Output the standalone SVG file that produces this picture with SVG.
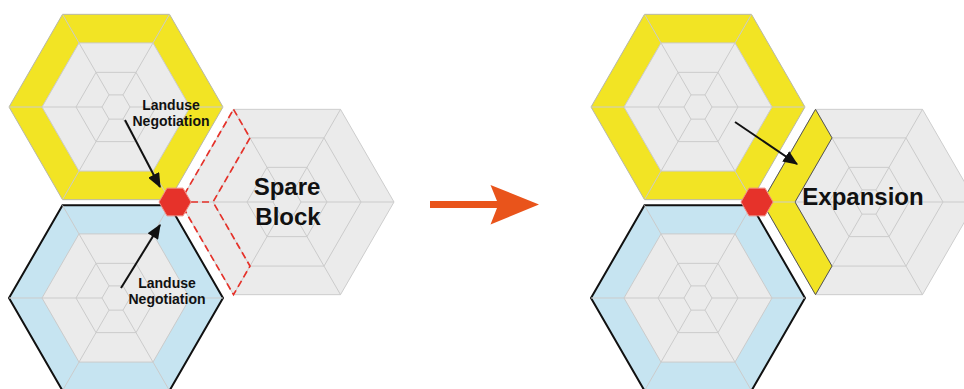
<svg xmlns="http://www.w3.org/2000/svg" xmlns:xlink="http://www.w3.org/1999/xlink" width="964" height="389" viewBox="0 0 964 389">
<style>
.yellow{fill:#f2e424;stroke:#b8b8a8;stroke-width:1}
.blue{fill:#c6e4f1;stroke:#111;stroke-width:2}
.grey{fill:#ebebeb;stroke:#cdcdcd;stroke-width:1}
.core{fill:#ebebeb;stroke:#cbcbcb;stroke-width:1}
.ring{fill:none;stroke:#cbcbcb;stroke-width:1}
.hub{fill:#e6322a;stroke:#f08a80;stroke-width:1}
.band{fill:#f2e424;stroke:#555;stroke-width:1}
.dash{fill:none;stroke:#e6322a;stroke-width:1.7;stroke-dasharray:7 4}
.pointer{stroke:#111;stroke-width:2;fill:none;marker-end:url(#ah)}
.lbl{font-family:"Liberation Sans",Arial,sans-serif;font-weight:bold;fill:#111;text-anchor:middle}
.small{font-size:14px}
.big{font-size:24px}
</style>
<defs>
<marker id="ah" viewBox="0 0 12 10" refX="11" refY="5" markerWidth="7.5" markerHeight="6.2" orient="auto" markerUnits="strokeWidth">
<path d="M0,0 L12,5 L0,10 Z" fill="#111"/>
</marker>
<polygon id="hexR" points="107,0 53.5,-92.66 -53.5,-92.66 -107,0 -53.5,92.66 53.5,92.66"/>
<polygon id="hub" points="16,0 8,-13.86 -8,-13.86 -16,0 -8,13.86 8,13.86"/>
<g id="web">
<polygon class="core" points="74,0 37,-64.09 -37,-64.09 -74,0 -37,64.09 37,64.09"/>
<polygon class="ring" points="40,0 20,-34.64 -20,-34.64 -40,0 -20,34.64 20,34.64"/>
<polygon class="ring" points="14,0 7,-12.12 -7,-12.12 -14,0 -7,12.12 7,12.12"/>
<path class="ring" d="M14,0 L107,0 M7,-12.12 L53.5,-92.66 M-7,-12.12 L-53.5,-92.66 M-14,0 L-107,0 M-7,12.12 L-53.5,92.66 M7,12.12 L53.5,92.66"/>
</g>
</defs>

<!-- LEFT GROUP -->
<g id="spare-block" transform="translate(287,202)">
<use xlink:href="#hexR" href="#hexR" class="grey"/>
<use xlink:href="#web" href="#web"/>
</g>
<g id="spare-dashed-region">
<path class="dash" d="M233.5,109.34 L250,137.9 L213,202 L250,266.1 L233.5,294.66 L180,202 Z M180,202 L213,202"/>
</g>
<g id="yellow-block-left" transform="translate(116,107)">
<use xlink:href="#hexR" href="#hexR" class="yellow"/>
<use xlink:href="#web" href="#web"/>
</g>
<g id="blue-block-left" transform="translate(116,298)">
<use xlink:href="#hexR" href="#hexR" class="blue"/>
<use xlink:href="#web" href="#web"/>
</g>
<g id="hub-left" transform="translate(175,202)">
<use xlink:href="#hub" href="#hub" class="hub"/>
</g>
<g id="spare-label">
<text class="lbl big" x="287" y="195">Spare</text>
<text class="lbl big" x="288" y="225">Block</text>
</g>

<!-- RIGHT GROUP -->
<g id="expansion-block" transform="translate(869,202)">
<use xlink:href="#hexR" href="#hexR" class="grey"/>
<use xlink:href="#web" href="#web"/>
</g>
<g id="expansion-band">
<polygon class="band" points="815.5,109.34 832,137.9 795,202 832,266.1 815.5,294.66 762,202"/>
<path class="ring" d="M762,202 L795,202"/>
</g>
<g id="yellow-block-right" transform="translate(698,107)">
<use xlink:href="#hexR" href="#hexR" class="yellow"/>
<use xlink:href="#web" href="#web"/>
</g>
<g id="blue-block-right" transform="translate(698,298)">
<use xlink:href="#hexR" href="#hexR" class="blue"/>
<use xlink:href="#web" href="#web"/>
</g>
<g id="hub-right" transform="translate(757,202)">
<use xlink:href="#hub" href="#hub" class="hub"/>
</g>
<g id="expansion-label">
<text class="lbl big" x="863" y="205">Expansion</text>
</g>

<!-- CONNECTORS -->
<g id="connectors">
<path class="pointer" d="M125,120 L160,187"/>
<path class="pointer" d="M121,288 L160,225"/>
<path class="pointer" d="M735,122 L797,164"/>
<polygon fill="#e9541b" points="430,201 497,201 490.5,185 539,204.5 490.5,224.5 497,208 430,208"/>
<text class="lbl small" x="171" y="110">Landuse</text>
<text class="lbl small" x="171" y="126">Negotiation</text>
<text class="lbl small" x="167" y="288">Landuse</text>
<text class="lbl small" x="167" y="304">Negotiation</text>
</g>
</svg>
